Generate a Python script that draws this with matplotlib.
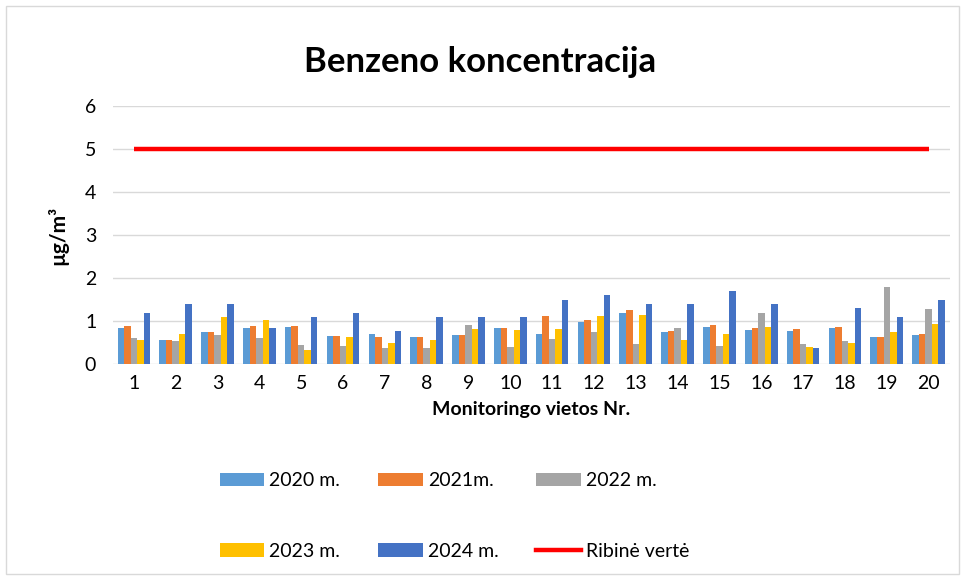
import matplotlib
matplotlib.use("Agg")
import matplotlib.pyplot as plt
import numpy as np
from matplotlib.patches import Rectangle, Patch
from matplotlib.lines import Line2D

plt.rcParams['font.family'] = ['Lato', 'DejaVu Sans']

sites = list(range(1, 21))
v2020 = [0.85, 0.57, 0.74, 0.84, 0.87, 0.66, 0.71, 0.64, 0.67, 0.84, 0.71, 0.99, 1.18, 0.76, 0.87, 0.79, 0.78, 0.85, 0.63, 0.67]
v2021 = [0.90, 0.57, 0.76, 0.88, 0.90, 0.66, 0.63, 0.64, 0.69, 0.85, 1.11, 1.02, 1.27, 0.78, 0.91, 0.85, 0.81, 0.87, 0.64, 0.70]
v2022 = [0.62, 0.53, 0.67, 0.61, 0.44, 0.43, 0.37, 0.37, 0.91, 0.40, 0.58, 0.75, 0.47, 0.84, 0.43, 1.19, 0.46, 0.53, 1.79, 1.29]
v2023 = [0.57, 0.70, 1.09, 1.03, 0.32, 0.64, 0.50, 0.57, 0.81, 0.79, 0.82, 1.12, 1.15, 0.57, 0.71, 0.86, 0.40, 0.49, 0.76, 0.93]
v2024 = [1.20, 1.40, 1.40, 0.85, 1.10, 1.20, 0.78, 1.10, 1.10, 1.10, 1.50, 1.60, 1.40, 1.40, 1.70, 1.40, 0.37, 1.30, 1.10, 1.50]
limit = [5] * 20

series = [("2020 m.", v2020, "#5B9BD5"),
          ("2021m.", v2021, "#ED7D31"),
          ("2022 m.", v2022, "#A5A5A5"),
          ("2023 m.", v2023, "#FFC000"),
          ("2024 m.", v2024, "#4472C4")]
limit_label = "Ribinė vertė"

fig = plt.figure(figsize=(9.65, 5.8), dpi=100)
fig.patches.append(Rectangle((0.006, 0.01), 0.988, 0.98, transform=fig.transFigure,
                             fill=False, edgecolor="#D9D9D9", linewidth=1))

ax = fig.add_axes([0.117, 0.372, 0.867, 0.445])
x = np.array(sites)
w = 0.156
for i, (lab, vals, col) in enumerate(series):
    ax.bar(x + (i - 2) * w, vals, width=w, color=col, label=lab, zorder=3)
ax.plot(x, limit, color="#FF0000", linewidth=3.2, solid_capstyle="butt", zorder=4)

ax.set_xlim(0.5, 20.5)
ax.set_ylim(0, 6)
ax.set_yticks(range(0, 7))
ax.set_xticks(x)
ax.set_xticklabels([str(s) for s in sites])
ax.grid(axis="y", color="#D9D9D9", linewidth=1, zorder=0)
for s in ax.spines.values():
    s.set_visible(False)
ax.tick_params(axis="both", length=0, labelsize=14, colors="#000000")
ax.tick_params(axis="x", pad=8)
ax.tick_params(axis="y", pad=12)
ax.set_xlabel("Monitoringo vietos Nr.", fontsize=14, fontweight="bold", labelpad=6)
ax.set_ylabel("µg/m³", fontsize=15, fontweight="bold", labelpad=12)
fig.text(0.497, 0.893, "Benzeno koncentracija", ha="center", va="center",
         fontsize=25, fontweight="bold")

handles = {lab: Patch(facecolor=col) for lab, _, col in series}
red = Line2D([0], [0], color="#FF0000", linewidth=3.2)
order_h = [handles["2020 m."], handles["2023 m."], handles["2021m."], handles["2024 m."], handles["2022 m."], red]
order_l = ["2020 m.", "2023 m.", "2021m.", "2024 m.", "2022 m.", limit_label]
fig.legend(order_h, order_l, ncol=3, loc="center", bbox_to_anchor=(0.471, 0.11),
           frameon=False, fontsize=14, handlelength=2.3, handleheight=0.7,
           handletextpad=0.25, columnspacing=1.95, labelspacing=2.75)

fig.savefig("out.png", dpi=100)
